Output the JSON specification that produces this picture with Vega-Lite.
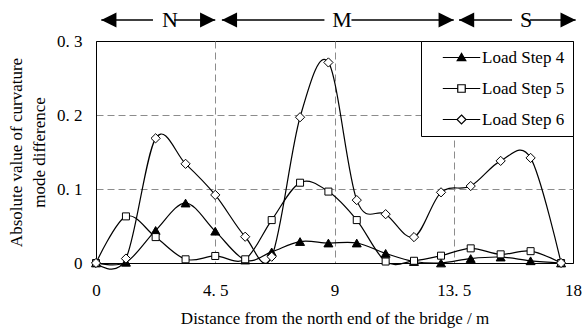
{
  "$schema": "https://vega.github.io/schema/vega-lite/v6.json",
  "autosize": {"type": "none"},
  "padding": {"left": 96, "top": 41, "right": 10, "bottom": 66},
  "width": 477,
  "height": 222,
  "config": {
    "font": "Liberation Serif",
    "view": {"stroke": "#000", "strokeWidth": 1},
    "axis": {
      "labelFont": "Liberation Serif", "titleFont": "Liberation Serif",
      "labelFontSize": 17, "titleFontSize": 17, "labelColor": "#000", "titleColor": "#000",
      "titleFontWeight": "normal", "domainColor": "#000", "domainWidth": 1,
      "gridColor": "#8c8c8c", "gridDash": [7, 4], "gridWidth": 1, "ticks": false
    },
    "legend": {
      "orient": "top-right", "offset": 0, "padding": 8, "rowPadding": 13,
      "labelFont": "Liberation Serif", "labelFontSize": 17, "labelColor": "#000",
      "fillColor": "#fff", "strokeColor": "#000",
      "symbolSize": 56, "symbolOffset": 24, "labelOffset": 12,
      "symbolStrokeColor": "#000", "symbolStrokeWidth": 1.2, "symbolFillColor": "#fff", "symbolOpacity": 1
    }
  },
  "resolve": {"scale": {"shape": "independent"}},
  "datasets": {
    "curves": [
      {"series": "Load Step 4", "x": 0, "y": 0},
      {"series": "Load Step 4", "x": 1.13, "y": 0.001},
      {"series": "Load Step 4", "x": 2.25, "y": 0.044},
      {"series": "Load Step 4", "x": 3.38, "y": 0.081},
      {"series": "Load Step 4", "x": 4.5, "y": 0.043},
      {"series": "Load Step 4", "x": 5.63, "y": 0.004},
      {"series": "Load Step 4", "x": 6.63, "y": 0.015},
      {"series": "Load Step 4", "x": 7.7, "y": 0.029},
      {"series": "Load Step 4", "x": 8.77, "y": 0.027},
      {"series": "Load Step 4", "x": 9.84, "y": 0.027},
      {"series": "Load Step 4", "x": 10.93, "y": 0.013},
      {"series": "Load Step 4", "x": 12.0, "y": 0.002},
      {"series": "Load Step 4", "x": 13.02, "y": 0.0},
      {"series": "Load Step 4", "x": 14.14, "y": 0.006},
      {"series": "Load Step 4", "x": 15.27, "y": 0.008},
      {"series": "Load Step 4", "x": 16.4, "y": 0.003},
      {"series": "Load Step 4", "x": 17.55, "y": 0},
      {"series": "Load Step 5", "x": 0, "y": 0},
      {"series": "Load Step 5", "x": 1.13, "y": 0.063},
      {"series": "Load Step 5", "x": 2.25, "y": 0.035},
      {"series": "Load Step 5", "x": 3.38, "y": 0.005},
      {"series": "Load Step 5", "x": 4.5, "y": 0.0095},
      {"series": "Load Step 5", "x": 5.63, "y": 0.005},
      {"series": "Load Step 5", "x": 6.63, "y": 0.058},
      {"series": "Load Step 5", "x": 7.7, "y": 0.1085},
      {"series": "Load Step 5", "x": 8.77, "y": 0.0965},
      {"series": "Load Step 5", "x": 9.84, "y": 0.058},
      {"series": "Load Step 5", "x": 10.93, "y": 0.002},
      {"series": "Load Step 5", "x": 12.0, "y": 0.003},
      {"series": "Load Step 5", "x": 13.02, "y": 0.0099},
      {"series": "Load Step 5", "x": 14.14, "y": 0.0198},
      {"series": "Load Step 5", "x": 15.27, "y": 0.0117},
      {"series": "Load Step 5", "x": 16.4, "y": 0.016},
      {"series": "Load Step 5", "x": 17.55, "y": 0},
      {"series": "Load Step 6", "x": 0, "y": 0},
      {"series": "Load Step 6", "x": 1.13, "y": 0.006},
      {"series": "Load Step 6", "x": 2.25, "y": 0.1685},
      {"series": "Load Step 6", "x": 3.38, "y": 0.134},
      {"series": "Load Step 6", "x": 4.5, "y": 0.092},
      {"series": "Load Step 6", "x": 5.63, "y": 0.0355},
      {"series": "Load Step 6", "x": 6.63, "y": 0.0085},
      {"series": "Load Step 6", "x": 7.7, "y": 0.197},
      {"series": "Load Step 6", "x": 8.77, "y": 0.271},
      {"series": "Load Step 6", "x": 9.84, "y": 0.085},
      {"series": "Load Step 6", "x": 10.93, "y": 0.066},
      {"series": "Load Step 6", "x": 12.0, "y": 0.035},
      {"series": "Load Step 6", "x": 13.02, "y": 0.0955},
      {"series": "Load Step 6", "x": 14.14, "y": 0.104},
      {"series": "Load Step 6", "x": 15.27, "y": 0.138},
      {"series": "Load Step 6", "x": 16.4, "y": 0.142},
      {"series": "Load Step 6", "x": 17.55, "y": 0}
    ],
    "segments": [
      {"zone": "N", "x0": 0.2, "x1": 2.15},
      {"zone": "N", "x0": 2.95, "x1": 4.5},
      {"zone": "M", "x0": 4.75, "x1": 8.62},
      {"zone": "M", "x0": 9.64, "x1": 13.5},
      {"zone": "S", "x0": 13.7, "x1": 15.7},
      {"zone": "S", "x0": 16.38, "x1": 18.1}
    ],
    "arrows": [
      {"zone": "N", "dir": "L", "x": 0.2},
      {"zone": "N", "dir": "R", "x": 4.5},
      {"zone": "M", "dir": "L", "x": 4.75},
      {"zone": "M", "dir": "R", "x": 13.5},
      {"zone": "S", "dir": "L", "x": 13.7},
      {"zone": "S", "dir": "R", "x": 18.1}
    ],
    "zones": [
      {"zone": "N", "x": 2.79},
      {"zone": "M", "x": 9.28},
      {"zone": "S", "x": 16.23}
    ]
  },
  "layer": [
    {
      "data": {"name": "curves"},
      "mark": {"type": "line", "interpolate": "cardinal", "color": "#000", "strokeWidth": 1.2},
      "encoding": {
        "x": {
          "field": "x", "type": "quantitative",
          "scale": {"domain": [0, 18], "nice": false, "zero": false},
          "axis": {
            "values": [0, 4.5, 9, 13.5, 18],
            "format": ".3~g",
            "labelExpr": "replace(datum.label, '.', '. ')",
            "title": "Distance from the north end of the bridge / m",
            "grid": true,
            "gridOpacity": {"condition": {"test": "datum.value == 0 || datum.value == 18", "value": 0}, "value": 1},
            "labelPadding": 19, "titlePadding": 12, "labelFlush": false
          }
        },
        "y": {
          "field": "y", "type": "quantitative",
          "scale": {"domain": [0, 0.3], "nice": false},
          "axis": {
            "values": [0, 0.1, 0.2, 0.3],
            "format": ".2~g",
            "labelExpr": "replace(datum.label, '.', '. ')",
            "title": ["Absolute value of curvature", "mode difference"],
            "titleLineHeight": 23,
            "grid": true,
            "gridOpacity": {"condition": {"test": "datum.value == 0 || datum.value == 0.3", "value": 0}, "value": 1},
            "labelPadding": 14, "titlePadding": 8
          }
        },
        "detail": {"field": "series"}
      }
    },
    {
      "data": {"name": "curves"},
      "mark": {"type": "point", "filled": true, "stroke": "#000", "strokeWidth": 1, "opacity": 1},
      "encoding": {
        "x": {"field": "x", "type": "quantitative"},
        "y": {"field": "y", "type": "quantitative"},
        "shape": {
          "field": "series", "type": "nominal",
          "scale": {"domain": ["Load Step 4", "Load Step 5", "Load Step 6"], "range": ["triangle-up", "square", "diamond"]},
          "legend": null
        },
        "fill": {"condition": {"test": "datum.series === 'Load Step 4'", "value": "#000"}, "value": "#fff"},
        "size": {
          "condition": [
            {"test": "datum.series === 'Load Step 4'", "value": 80},
            {"test": "datum.series === 'Load Step 6'", "value": 85}
          ],
          "value": 49
        }
      }
    },
    {
      "data": {"name": "curves"},
      "mark": {"type": "point", "filled": true, "stroke": "#000", "strokeWidth": 1, "opacity": 0},
      "encoding": {
        "x": {"field": "x", "type": "quantitative"},
        "y": {"field": "y", "type": "quantitative"},
        "shape": {
          "field": "series", "type": "nominal",
          "scale": {
            "domain": ["Load Step 4", "Load Step 5", "Load Step 6"],
            "range": ["M-5,0H5M0,-1.1L1.15,0.85H-1.15Z", "M-5,0H-1M1,0H5M-1,-1H1V1H-1Z", "M-5,0H-1.2M1.2,0H5M0,-1.2L1.2,0L0,1.2L-1.2,0Z"]
          },
          "legend": {
            "title": null,
            "encoding": {
              "symbols": {
                "fill": {
                  "condition": {"test": "datum.value === 'Load Step 4'", "value": "#000"},
                  "value": "#fff"
                },
                "stroke": {"value": "#000"},
                "opacity": {"value": 1}
              }
            }
          }
        }
      }
    },
    {
      "data": {"name": "segments"},
      "mark": {"type": "rule", "color": "#000", "strokeWidth": 1.6},
      "encoding": {
        "x": {"field": "x0", "type": "quantitative"},
        "x2": {"field": "x1"},
        "y": {"datum": 0.3284, "type": "quantitative"}
      }
    },
    {
      "data": {"name": "arrows"},
      "transform": [{"filter": "datum.dir == 'L'"}],
      "mark": {"type": "point", "shape": "M0,0L2,-1L2,1Z", "filled": true, "color": "#000", "size": 230, "opacity": 1},
      "encoding": {
        "x": {"field": "x", "type": "quantitative"},
        "y": {"datum": 0.3284, "type": "quantitative"}
      }
    },
    {
      "data": {"name": "arrows"},
      "transform": [{"filter": "datum.dir == 'R'"}],
      "mark": {"type": "point", "shape": "M0,0L-2,-1L-2,1Z", "filled": true, "color": "#000", "size": 230, "opacity": 1},
      "encoding": {
        "x": {"field": "x", "type": "quantitative"},
        "y": {"datum": 0.3284, "type": "quantitative"}
      }
    },
    {
      "data": {"name": "zones"},
      "mark": {"type": "text", "font": "Liberation Serif", "fontSize": 22, "color": "#000", "align": "center", "baseline": "middle"},
      "encoding": {
        "x": {"field": "x", "type": "quantitative"},
        "y": {"datum": 0.3284, "type": "quantitative"},
        "text": {"field": "zone"}
      }
    }
  ]
}
